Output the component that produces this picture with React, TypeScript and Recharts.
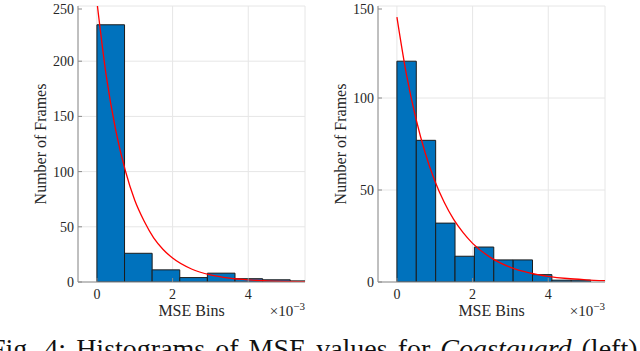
import React from 'react';
import { ComposedChart, Line, XAxis, YAxis, CartesianGrid, ReferenceArea, Label } from 'recharts';

// x values are in units of 1e-3 (shown by the ×10^-3 factor)
const xTicks = [0, 2, 4];
const fitX = [0, 0.25, 0.5, 0.75, 1, 1.25, 1.5, 1.75, 2, 2.5, 3, 3.5, 4, 4.5, 5, 5.5];

// Coastguard (left)
const leftEdges = [0, 0.73, 1.46, 2.19, 2.92, 3.65, 4.38, 5.11, 5.84];
const leftCounts = [233, 26, 11, 4, 8, 3, 2, 1];
const leftFit = [254, 186, 137, 101, 74, 55, 40, 29.5, 21.7, 11.8, 6.4, 3.5, 1.9, 1, 0.55, 0.3];
const leftYTicks = [0, 50, 100, 150, 200, 250];

// right panel
const rightEdges = [0, 0.512, 1.024, 1.536, 2.048, 2.56, 3.072, 3.584, 4.096, 4.608, 5.12];
const rightCounts = [120, 77, 32, 14, 19, 12, 12, 4, 1, 1];
const rightFit = [144, 113, 89, 70, 55, 43.3, 34, 26.8, 21, 13, 8, 5, 3.1, 1.9, 1.2, 0.7];
const rightYTicks = [0, 50, 100, 150];

const BIN_FILL = '#0072BD';
const BIN_EDGE = '#1c1c1c';
const AXIS = '#8c8c8c';
const GRID = '#e6e6e6';
const TEXT = '#262626';
const FIT = '#ff0000';
const SERIF = "'Liberation Serif', 'DejaVu Serif', serif";

const YTick = (props: any) => {
  const { x, y, payload } = props;
  return (
    <g>
      <line x1={x + 4} x2={x + 8} y1={y} y2={y} stroke={AXIS} />
      <text x={x} y={y} dy="0.35em" textAnchor="end" fill={TEXT} style={{ fontFamily: SERIF, fontSize: 14 }}>
        {payload.value}
      </text>
    </g>
  );
};

const XTick = (props: any) => {
  const { x, y, payload } = props;
  return (
    <g>
      <line x1={x} x2={x} y1={y - 6} y2={y - 10} stroke={AXIS} />
      <text x={x} y={y} dy="0.8em" textAnchor="middle" fill={TEXT} style={{ fontFamily: SERIF, fontSize: 14 }}>
        {payload.value}
      </text>
    </g>
  );
};

const ScaleLabel = (props: any) => {
  const { viewBox } = props;
  return (
    <text
      x={viewBox.x + viewBox.width}
      y={viewBox.y + viewBox.height - 2}
      textAnchor="end"
      fill={TEXT}
      style={{ fontFamily: SERIF, fontSize: 15 }}
    >
      ×10
      <tspan dy={-6} style={{ fontSize: 11 }}>−3</tspan>
    </text>
  );
};

interface HistProps {
  edges: number[];
  counts: number[];
  fit: number[];
  yTicks: number[];
  marginLeft: number;
  marginRight: number;
}

function Histogram({ edges, counts, fit, yTicks, marginLeft, marginRight }: HistProps) {
  const data = fitX.map((x, i) => ({ x, fit: fit[i] }));
  const yMax = yTicks[yTicks.length - 1];
  return (
    <ComposedChart
      width={320}
      height={320}
      data={data}
      margin={{ top: 6, right: marginRight, bottom: 2, left: marginLeft }}
    >
      <CartesianGrid stroke={GRID} />
      <XAxis
        dataKey="x"
        type="number"
        domain={[-0.5, 5.5]}
        ticks={xTicks}
        allowDataOverflow
        height={36}
        tickSize={0}
        tickMargin={6}
        tick={<XTick />}
        tickLine={false}
        axisLine={{ stroke: AXIS }}
      >
        <Label
          value="MSE Bins"
          position="insideBottom"
          offset={2}
          fill={TEXT}
          style={{ fontFamily: SERIF, fontSize: 16 }}
        />
        <Label position="insideBottomRight" content={<ScaleLabel />} />
      </XAxis>
      <XAxis
        xAxisId="top"
        orientation="top"
        type="number"
        domain={[-0.5, 5.5]}
        ticks={xTicks}
        height={0}
        mirror
        tick={false}
        tickSize={4}
        tickLine={{ stroke: AXIS }}
        axisLine={{ stroke: AXIS }}
      />
      <YAxis
        type="number"
        domain={[0, yMax]}
        ticks={yTicks}
        allowDataOverflow
        width={40}
        tickSize={0}
        tickMargin={4}
        tick={<YTick />}
        tickLine={false}
        axisLine={{ stroke: AXIS }}
      >
        <Label
          value="Number of Frames"
          angle={-90}
          position="insideLeft"
          offset={2}
          fill={TEXT}
          style={{ textAnchor: 'middle', fontFamily: SERIF, fontSize: 16 }}
        />
      </YAxis>
      <YAxis
        yAxisId="right"
        orientation="right"
        type="number"
        domain={[0, yMax]}
        ticks={yTicks}
        width={0}
        mirror
        tick={false}
        tickSize={4}
        tickLine={{ stroke: AXIS }}
        axisLine={{ stroke: AXIS }}
      />
      {counts.map((c, i) => (
        <ReferenceArea
          key={i}
          x1={edges[i]}
          x2={edges[i + 1]}
          y1={0}
          y2={c}
          ifOverflow="hidden"
          fill={BIN_FILL}
          fillOpacity={1}
          stroke={BIN_EDGE}
          strokeWidth={1}
        />
      ))}
      <Line
        dataKey="fit"
        type="monotone"
        stroke={FIT}
        strokeWidth={1.3}
        dot={false}
        activeDot={false}
        isAnimationActive={false}
      />
    </ComposedChart>
  );
}

export default function App() {
  return (
    <div style={{ position: 'fixed', left: 0, top: 0, width: 640, height: 351, overflow: 'hidden', background: '#fff' }}>
      <div style={{ display: 'flex' }}>
        <Histogram edges={leftEdges} counts={leftCounts} fit={leftFit} yTicks={leftYTicks} marginLeft={38} marginRight={15} />
        <Histogram edges={rightEdges} counts={rightCounts} fit={rightFit} yTicks={rightYTicks} marginLeft={18} marginRight={35} />
      </div>
      <svg width={640} height={351} style={{ position: 'absolute', left: 0, top: 0, pointerEvents: 'none' }}>
        <text x={-10} y={358} fill="#111" style={{ fontFamily: SERIF, fontSize: 28, wordSpacing: 3 }}>
          Fig. 4: Histograms of MSE values for <tspan style={{ fontStyle: 'italic' }}>Coastguard</tspan> (left) and
        </text>
      </svg>
    </div>
  );
}
